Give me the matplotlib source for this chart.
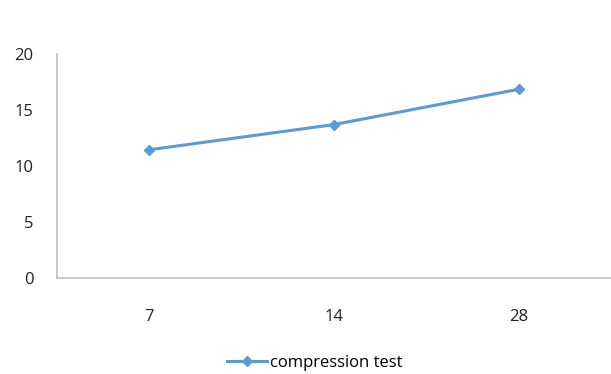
import matplotlib.pyplot as plt

days = ["7", "14", "28"]
strength = [11.45, 13.7, 16.85]
series_name = "compression test"

plt.rcParams['font.family'] = ['Open Sans', 'DejaVu Sans']

fig = plt.figure(figsize=(6.11, 3.74), dpi=100)
ax = fig.add_axes([57 / 611, 1 - 278 / 374, 1 - 57 / 611, 224 / 374])

x = range(len(days))
ax.plot(x, strength, color="#5b9bd5", linewidth=2.2, marker="D", markersize=5.5,
        label=series_name)

ax.set_xlim(-0.5, len(days) - 0.5)
ax.set_ylim(0, 20)
ax.set_yticks([0, 5, 10, 15, 20])
ax.set_xticks(list(x), days)
ax.tick_params(length=0, labelsize=12, colors="#222222")
ax.tick_params(axis="y", pad=17)
ax.tick_params(axis="x", pad=22)

for side in ["top", "right"]:
    ax.spines[side].set_visible(False)
for side in ["left", "bottom"]:
    ax.spines[side].set_color("#bfbfbf")
    ax.spines[side].set_linewidth(1.2)

fig.legend(loc="center", bbox_to_anchor=(315 / 611, 1 - 363 / 374), frameon=False,
           fontsize=12, handlelength=2.4, handletextpad=0.2)

fig.savefig("out.png", dpi=100)
